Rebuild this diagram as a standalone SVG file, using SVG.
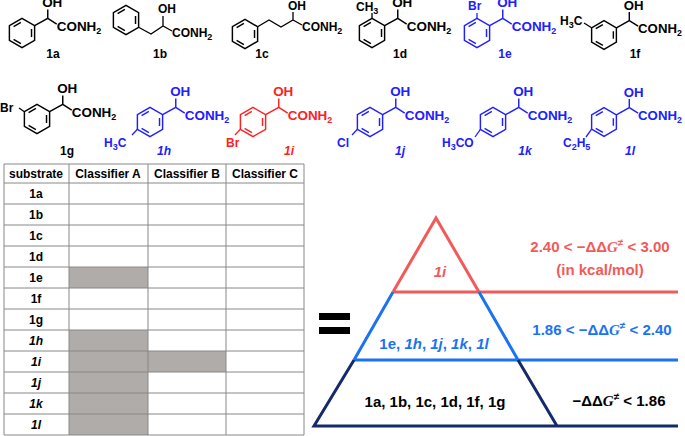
<svg xmlns="http://www.w3.org/2000/svg" xmlns:xlink="http://www.w3.org/1999/xlink" width="685" height="436" viewBox="0 0 685 436">
<style>
text{font-family:"Liberation Sans",Arial,sans-serif;font-weight:bold;font-size:12px}
.b{stroke:currentColor;stroke-width:1.3;fill:none}
.k{fill:#000;color:#000}
.bl{fill:#2020ff;color:#2020ff}
.rd{fill:#ff2020;color:#ff2020}
.lab{text-anchor:middle;font-size:12px}
.it{font-style:italic}
.t{font-size:12px;text-anchor:middle}
.g{stroke:#888;stroke-width:1;fill:none}
.big{font-size:15px}
</style>
<defs>
<g id="ring"><path class="b" d="M0,-13L11.26,-6.5L11.26,6.5L0,13L-11.26,6.5L-11.26,-6.5Z M8.5,-3.5L8.5,3.5 M-1,9.5L-7.5,5.7 M-7.5,-5.7L-1,-9.5"/></g>
<g id="mand"><use xlink:href="#ring"/><path class="b" d="M11.26,-6.5L23,-13L31,-8 M23,-13L23,-21"/><text x="18" y="-23" stroke="none" font-size="11">OH</text><text x="31" y="-2" stroke="none" font-size="11">CONH<tspan font-size="8" dy="3">2</tspan></text></g>
</defs>
<g id="molecules">
<g id="m1a" class="k"><use xlink:href="#mand" transform="translate(22,33) scale(1.12)"/><text class="lab" x="53" y="58">1a</text></g>
<g id="m1b" class="k"><use xlink:href="#ring" transform="translate(126,20) scale(1.12)"/><path class="b" d="M138.6,27.3L151,34L163,26L172,31 M163,26L163,16"/><text x="158" y="13">OH</text><text x="172" y="37">CONH<tspan font-size="9" dy="3">2</tspan></text><text class="lab" x="160" y="58">1b</text></g>
<g id="m1c" class="k"><use xlink:href="#ring" transform="translate(245,34) scale(1.12)"/><path class="b" d="M257.6,26.7L269,20L281,27L293,20L302,25 M293,20L293,12"/><text x="288" y="10">OH</text><text x="302" y="31">CONH<tspan font-size="9" dy="3">2</tspan></text><text class="lab" x="262" y="58">1c</text></g>
<g id="m1d" class="k"><use xlink:href="#mand" transform="translate(372,33) scale(1.12)"/><path class="b" d="M372,18.5L372,13"/><text x="356" y="11">CH<tspan font-size="9" dy="3">3</tspan></text><text class="lab" x="400" y="58">1d</text></g>
<g id="m1e" class="bl"><use xlink:href="#mand" transform="translate(477,33) scale(1.12)"/><path class="b" d="M477,18.5L477,13"/><text x="468" y="10">Br</text><text class="lab" x="505" y="58">1e</text></g>
<g id="m1f" class="k"><use xlink:href="#mand" transform="translate(604,35) scale(1.1)"/><path class="b" d="M591.6,27.8L584,23"/><text x="560" y="25">H<tspan font-size="9" dy="3">3</tspan><tspan dy="-3">C</tspan></text><text class="lab" x="635" y="58">1f</text></g>
<g id="m1g" class="k"><use xlink:href="#mand" transform="translate(37,119) scale(1.12)"/><path class="b" d="M24.4,111.7L19,108"/><text x="0" y="112">Br</text><text class="lab" x="67" y="155">1g</text></g>
<g id="m1h" class="bl"><use xlink:href="#mand" transform="translate(150,122) scale(1.12)"/><path class="b" d="M137.4,129.3L132,135"/><text x="104" y="147">H<tspan font-size="9" dy="3">3</tspan><tspan dy="-3">C</tspan></text><text class="lab it" x="164" y="155">1h</text></g>
<g id="m1i" class="rd"><use xlink:href="#mand" transform="translate(253,122) scale(1.12)"/><path class="b" d="M240.4,129.3L235,135"/><text x="226" y="147">Br</text><text class="lab it" x="289" y="155">1i</text></g>
<g id="m1j" class="bl"><use xlink:href="#mand" transform="translate(370,122) scale(1.12)"/><path class="b" d="M357.4,129.3L352,135"/><text x="337" y="147">Cl</text><text class="lab it" x="400" y="155">1j</text></g>
<g id="m1k" class="bl"><use xlink:href="#mand" transform="translate(493,122) scale(1.12)"/><path class="b" d="M480.4,129.3L475,137"/><text x="442" y="147">H<tspan font-size="9" dy="3">3</tspan><tspan dy="-3">CO</tspan></text><text class="lab it" x="525" y="155">1k</text></g>
<g id="m1l" class="bl"><use xlink:href="#mand" transform="translate(604,122) scale(1.1)"/><path class="b" d="M591.6,129.2L586,137"/><text x="563" y="147">C<tspan font-size="9" dy="3">2</tspan><tspan dy="-3">H</tspan><tspan font-size="9" dy="3">5</tspan></text><text class="lab it" x="630" y="155">1l</text></g>
</g>
<g id="table">
<g fill="#b0acaa"><rect x="69" y="267" width="79" height="21"/><rect x="69" y="330" width="79" height="105"/><rect x="148" y="351" width="78" height="21"/></g>
<path class="g" d="M4,164H304M4,183H304M4,204H304M4,225H304M4,246H304M4,267H304M4,288H304M4,309H304M4,330H304M4,351H304M4,372H304M4,393H304M4,414H304M4,435H304M4,164V435M69,164V435M148,164V435M226,164V435M304,164V435"/>
<text class="t" x="36" y="178">substrate</text><text class="t" x="108" y="178">Classifier A</text><text class="t" x="187" y="178">Classifier B</text><text class="t" x="265" y="178">Classifier C</text>
<g><text class="t" x="36" y="198">1a</text><text class="t" x="36" y="219">1b</text><text class="t" x="36" y="240">1c</text><text class="t" x="36" y="261">1d</text><text class="t" x="36" y="282">1e</text><text class="t" x="36" y="303">1f</text><text class="t" x="36" y="324">1g</text><text class="t it" x="36" y="345">1h</text><text class="t it" x="36" y="366">1i</text><text class="t it" x="36" y="387">1j</text><text class="t it" x="36" y="408">1k</text><text class="t it" x="36" y="429">1l</text></g>
</g>
<g id="equals" fill="#000"><rect x="319" y="313" width="31" height="7"/><rect x="319" y="327" width="31" height="7"/></g>
<g id="pyramid" fill="none" stroke-width="3">
<path stroke="#f25a5a" d="M393,292L436,218L479,292M393,292H678"/>
<path stroke="#1a73f0" d="M393,292L354,360M479,292L518,360M354,360H678"/>
<path stroke="#142a6a" d="M354,360L314,426H678M518,360L557,426"/>
</g>
<g id="labels">
<text class="big it" x="440" y="277" text-anchor="middle" fill="#f25a5a">1i</text>
<text class="big" x="600" y="252" text-anchor="middle" fill="#f25a5a">2.40 &lt; −ΔΔ<tspan font-family="Liberation Serif" font-style="italic">G</tspan><tspan font-size="10" dy="-6">≠</tspan><tspan dy="6"> &lt; 3.00</tspan></text>
<text class="big" x="600" y="275" text-anchor="middle" fill="#f25a5a">(in kcal/mol)</text>
<text class="big" x="434" y="349" text-anchor="middle" fill="#1a73f0">1e, <tspan font-style="italic">1h</tspan>, <tspan font-style="italic">1j</tspan>, <tspan font-style="italic">1k</tspan>, <tspan font-style="italic">1l</tspan></text>
<text class="big" x="602" y="335" text-anchor="middle" fill="#1a73f0">1.86 &lt; −ΔΔ<tspan font-family="Liberation Serif" font-style="italic">G</tspan><tspan font-size="10" dy="-6">≠</tspan><tspan dy="6"> &lt; 2.40</tspan></text>
<text class="big" x="435" y="407" text-anchor="middle" fill="#000">1a, 1b, 1c, 1d, 1f, 1g</text>
<text class="big" x="619" y="406" text-anchor="middle" fill="#000">−ΔΔ<tspan font-family="Liberation Serif" font-style="italic">G</tspan><tspan font-size="10" dy="-6">≠</tspan><tspan dy="6"> &lt; 1.86</tspan></text>
</g>
</svg>
